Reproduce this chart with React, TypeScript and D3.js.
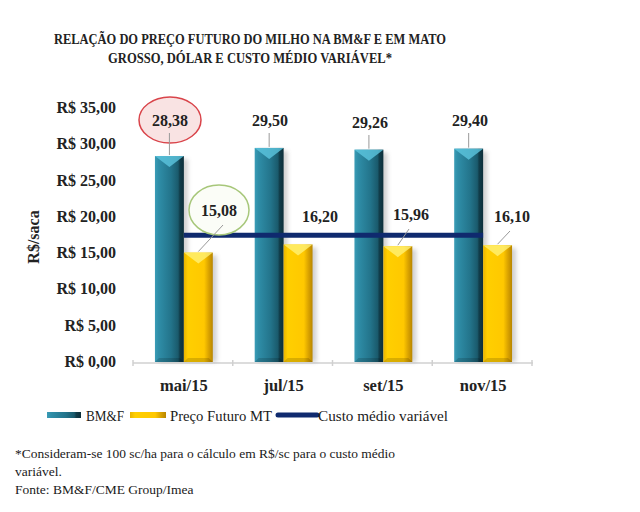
import React from "react";
import * as d3 from "d3";

const categories = ["mai/15", "jul/15", "set/15", "nov/15"];
const bmf = [28.38, 29.5, 29.26, 29.4];
const precoMT = [15.08, 16.2, 15.96, 16.1];
const custoMedio = [17.45, 17.45, 17.45, 17.45];
const yTicks = [0, 5, 10, 15, 20, 25, 30, 35];

const FONT = "'Liberation Serif', 'DejaVu Serif', serif";
const fmt = (v: number) => v.toFixed(2).replace(".", ",");

const App = () => {
  const W = 640;
  const H = 512;
  const y = d3.scaleLinear().domain([0, 35]).range([362, 108]);
  const x0 = d3
    .scaleBand<string>()
    .domain(categories)
    .range([134, 533])
    .paddingInner(0.42)
    .paddingOuter(0.21);
  const x1 = d3.scaleBand<string>().domain(["bmf", "mt"]).range([0, x0.bandwidth()]);
  const bw = x1.bandwidth();

  const line = d3
    .line<number>()
    .x((_, i) => (x0(categories[i]) as number) + x0.bandwidth() / 2)
    .y((d) => y(d));

  const bars = (vals: number[], key: string, grad: string, tri: string) =>
    vals.map((v, i) => {
      const bx = (x0(categories[i]) as number) + (x1(key) as number);
      const top = y(v);
      const h = y(0) - top;
      return (
        <g key={key + i}>
          <rect x={bx + 4} y={top + 3} width={bw} height={h - 3} fill="#999" opacity={0.45} filter="url(#blur)" />
          <rect x={bx} y={top} width={bw} height={h} fill={`url(#${grad})`} />
          <polygon
            points={`${bx},${top} ${bx + bw},${top} ${bx + bw / 2},${top + bw * 0.38}`}
            fill={tri}
            opacity={0.8}
          />
          <polygon
            points={`${bx},${y(0)} ${bx + bw},${y(0)} ${bx + bw - 4},${y(0) - 4} ${bx + 4},${y(0) - 4}`}
            fill="#000"
            opacity={0.15}
          />
        </g>
      );
    });

  const bmfLabelPos = [
    [170, 126],
    [270, 126],
    [370, 128],
    [470, 126],
  ];
  const mtLabelPos = [
    [219, 216],
    [320, 222],
    [411, 220],
    [512, 222],
  ];

  return (
    <svg width={W} height={H} style={{ position: "absolute", left: 0, top: 0, background: "#fff" }}>
      <defs>
        <linearGradient id="teal" x1="0" x2="1" y1="0" y2="0">
          <stop offset="0%" stopColor="#3a9cb6" />
          <stop offset="12%" stopColor="#2f8ea8" />
          <stop offset="55%" stopColor="#23748b" />
          <stop offset="80%" stopColor="#1a5a6c" />
          <stop offset="86%" stopColor="#113d4a" />
          <stop offset="100%" stopColor="#0d2f3a" />
        </linearGradient>
        <linearGradient id="gold" x1="0" x2="1" y1="0" y2="0">
          <stop offset="0%" stopColor="#e8b400" />
          <stop offset="14%" stopColor="#ffcf00" />
          <stop offset="70%" stopColor="#ffc800" />
          <stop offset="86%" stopColor="#d9a200" />
          <stop offset="100%" stopColor="#b88600" />
        </linearGradient>
        <filter id="blur" x="-30%" y="-10%" width="160%" height="120%">
          <feGaussianBlur stdDeviation="2" />
        </filter>
      </defs>

      <g fontFamily={FONT} fontWeight="bold" fill="#222" fontSize={15} textAnchor="middle">
        <text x={250} y={44} textLength={392} lengthAdjust="spacingAndGlyphs">
          RELAÇÃO DO PREÇO FUTURO DO MILHO NA BM&F E EM MATO
        </text>
        <text x={250} y={63} textLength={284} lengthAdjust="spacingAndGlyphs">
          GROSSO, DÓLAR E CUSTO MÉDIO VARIÁVEL*
        </text>
      </g>

      {/* y axis */}
      <g fontFamily={FONT} fontWeight="bold" fontSize={16} fill="#222" textAnchor="end">
        {yTicks.map((t) => (
          <text key={t} x={116} y={y(t) + 5}>
            {"R$ " + fmt(t)}
          </text>
        ))}
      </g>
      <text
        transform="translate(39,237) rotate(-90)"
        textAnchor="middle"
        fontFamily={FONT}
        fontWeight="bold"
        fontSize={16}
        fill="#222"
      >
        R$/saca
      </text>

      {/* x axis */}
      <line x1={133} x2={533} y1={y(0) + 1} y2={y(0) + 1} stroke="#d0d0d0" strokeWidth={1.5} />
      {[0, 1, 2, 3, 4].map((i) => {
        const xx = 133 + i * x0.step();
        return <line key={i} x1={xx} x2={xx} y1={y(0) - 2} y2={y(0) + 4} stroke="#d0d0d0" strokeWidth={1.5} />;
      })}
      <g fontFamily={FONT} fontWeight="bold" fontSize={16.5} fill="#222" textAnchor="middle">
        {categories.map((c) => (
          <text key={c} x={(x0(c) as number) + x0.bandwidth() / 2} y={391}>
            {c}
          </text>
        ))}
      </g>

      {bars(bmf, "bmf", "teal", "#5cc6df")}
      {bars(precoMT, "mt", "gold", "#fff176")}

      <path d={line(custoMedio) || ""} fill="none" stroke="#0f2a6e" strokeWidth={5} />

      {/* highlight ellipses */}
      <ellipse cx={170} cy={120} rx={31} ry={23} fill="#f9e3e3" stroke="#d9444a" strokeWidth={1.5} />
      <ellipse cx={219} cy={210} rx={30} ry={25} fill="#fbfdf7" stroke="#a7c77a" strokeWidth={1.5} />

      {/* leader lines */}
      {bmf.map((v, i) => {
        const cx = (x0(categories[i]) as number) + (x1("bmf") as number) + bw / 2;
        return <line key={"lb" + i} x1={cx} x2={cx} y1={bmfLabelPos[i][1] + 7} y2={y(v) - 1} stroke="#999" />;
      })}
      {precoMT.map((v, i) => {
        const cx = (x0(categories[i]) as number) + (x1("mt") as number) + bw / 2;
        const [lx, ly] = mtLabelPos[i];
        if (i === 1) return null;
        return <line key={"lm" + i} x1={lx + (i === 0 ? 4 : -2)} x2={cx} y1={ly + 9} y2={y(v) - 1} stroke="#999" />;
      })}

      <g fontFamily={FONT} fontWeight="bold" fontSize={16} fill="#222" textAnchor="middle">
        {bmf.map((v, i) => (
          <text key={"tb" + i} x={bmfLabelPos[i][0]} y={bmfLabelPos[i][1]}>
            {fmt(v)}
          </text>
        ))}
        {precoMT.map((v, i) => (
          <text key={"tm" + i} x={mtLabelPos[i][0]} y={mtLabelPos[i][1]}>
            {fmt(v)}
          </text>
        ))}
      </g>

      {/* legend */}
      <rect x={47} y={412} width={34} height={6} fill="url(#teal)" />
      <rect x={130} y={412} width={36} height={6} fill="url(#gold)" />
      <line x1={278} x2={317} y1={415} y2={415} stroke="#0f2a6e" strokeWidth={5} strokeLinecap="round" />
      <g fontFamily={FONT} fontSize={15.5} fill="#1a1a1a">
        <text x={86} y={421} textLength={38} lengthAdjust="spacingAndGlyphs">BM&F</text>
        <text x={170} y={421} textLength={102} lengthAdjust="spacingAndGlyphs">Preço Futuro MT</text>
        <text x={318} y={421} textLength={130} lengthAdjust="spacingAndGlyphs">Custo médio variável</text>
      </g>

      {/* footnotes */}
      <g fontFamily={FONT} fontSize={13.5} fill="#1a1a1a">
        <text x={15} y={458} textLength={380} lengthAdjust="spacingAndGlyphs">
          *Consideram-se 100 sc/ha para o cálculo em R$/sc para o custo médio
        </text>
        <text x={15} y={476}>variável.</text>
        <text x={15} y={494}>Fonte: BM&F/CME Group/Imea</text>
      </g>
    </svg>
  );
};

export default App;
